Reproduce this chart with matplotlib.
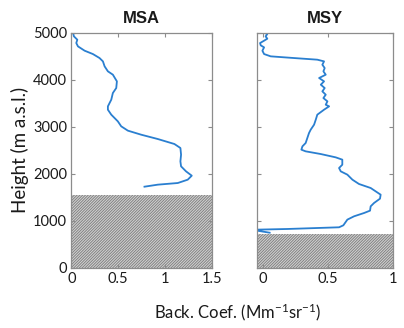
"""Backscatter coefficient profiles at MSA and MSY."""

import matplotlib
matplotlib.use("Agg")
import matplotlib.pyplot as plt

LINE = "#2a7fd0"
FRAME = "#8c8c8c"
TEXT = "#1a1a1a"

# MSA profile (backscatter coefficient, height m a.s.l.)
msa_coef = [0.018, 0.028, 0.064, 0.053, 0.071, 0.142, 0.230, 0.301, 0.337,
            0.355, 0.390, 0.443, 0.486, 0.479, 0.443, 0.426, 0.390, 0.390,
            0.426, 0.496, 0.532, 0.603, 0.745, 0.922, 1.099, 1.163, 1.170,
            1.163, 1.170, 1.223, 1.284, 1.241, 1.135, 0.922, 0.780]
msa_height = [5000, 4922, 4851, 4780, 4709, 4617, 4546, 4461, 4390,
              4284, 4178, 4107, 3965, 3823, 3717, 3575, 3433, 3362,
              3256, 3114, 3008, 2916, 2830, 2738, 2632, 2547, 2405,
              2263, 2157, 2050, 1958, 1873, 1802, 1767, 1724]

# MSY profile
msy_coef = [0.007, 0.032, 0.019, 0.032, 0.007, -0.024, -0.019, 0.007, -0.006,
            0.007, 0.058, 0.238, 0.418, 0.470, 0.457, 0.475, 0.465, 0.483,
            0.432, 0.470, 0.445, 0.475, 0.457, 0.483, 0.465, 0.496, 0.483,
            0.509, 0.470, 0.418, 0.406, 0.393, 0.367, 0.354, 0.341, 0.328,
            0.303, 0.295, 0.328, 0.444, 0.560, 0.611, 0.611, 0.586, 0.599,
            0.650, 0.689, 0.740, 0.830, 0.907, 0.902, 0.856, 0.830, 0.825,
            0.779, 0.702, 0.650, 0.619, 0.586, 0.187, -0.045, -0.05, 0.05]
msy_height = [5000, 4972, 4922, 4872, 4830, 4780, 4731, 4688, 4617,
              4546, 4497, 4461, 4426, 4390, 4319, 4248, 4178, 4107,
              4036, 3965, 3894, 3823, 3752, 3681, 3610, 3539, 3468,
              3433, 3362, 3256, 3149, 3043, 2937, 2866, 2760, 2653,
              2582, 2511, 2476, 2419, 2348, 2299, 2192, 2121, 2050,
              1980, 1873, 1781, 1696, 1554, 1469, 1377, 1306, 1214,
              1164, 1094, 1023, 902, 860, 824, 810, 790, 745]

# terrain below station (no data)
msa_ground = 1550
msy_ground = 720

plt.rcParams.update({
    "font.family": ["Lato", "DejaVu Sans"],
    "mathtext.fontset": "custom",
    "mathtext.rm": "Lato",
    "mathtext.default": "regular",
    "hatch.linewidth": 0.6,
})

HATCH = "////////////"


def style_axes(ax):
    for s in ax.spines.values():
        s.set_color(FRAME)
        s.set_linewidth(0.9)
    ax.tick_params(direction="in", length=3, width=0.8, color=FRAME,
                   labelcolor=TEXT, labelsize=10.5, top=True, right=True, pad=3)
    ax.set_ylim(0, 5000)
    ax.set_yticks([0, 1000, 2000, 3000, 4000, 5000])


fig = plt.figure(figsize=(4.04, 3.28), dpi=100)
ax1 = fig.add_axes([0.1765, 0.1838, 0.3483, 0.7165])
ax2 = fig.add_axes([0.6354, 0.1838, 0.3366, 0.7165])

ax1.axhspan(0, msa_ground, facecolor="#d0d0d0", hatch=HATCH,
            edgecolor="#7a7a7a", linewidth=0, zorder=1)
ax1.plot(msa_coef, msa_height, color=LINE, linewidth=1.3, zorder=2)
ax1.set_xlim(0, 1.5)
ax1.set_xticks([0, 0.5, 1, 1.5], ["0", "0.5", "1", "1.5"])
style_axes(ax1)
ax1.set_title("MSA", fontsize=12, fontweight="bold",
              family="Liberation Sans", color=TEXT, pad=7)
ax1.set_ylabel("Height (m a.s.l.)", fontsize=13.5, color=TEXT, labelpad=3)

ax2.axhspan(0, msy_ground, facecolor="#d0d0d0", hatch=HATCH,
            edgecolor="#7a7a7a", linewidth=0, zorder=1)
ax2.plot(msy_coef, msy_height, color=LINE, linewidth=1.3, zorder=2)
ax2.set_xlim(-0.05, 1)
ax2.set_xticks([0, 0.5, 1], ["0", "0.5", "1"])
style_axes(ax2)
ax2.tick_params(labelleft=False)
ax2.set_title("MSY", fontsize=12, fontweight="bold",
              family="Liberation Sans", color=TEXT, pad=7)

fig.text(0.588, 0.048, "Back. Coef. (Mm$^{-1}$sr$^{-1}$)",
         fontsize=12, color=TEXT, ha="center", va="center")

fig.savefig("out.png", dpi=100, facecolor="white")
